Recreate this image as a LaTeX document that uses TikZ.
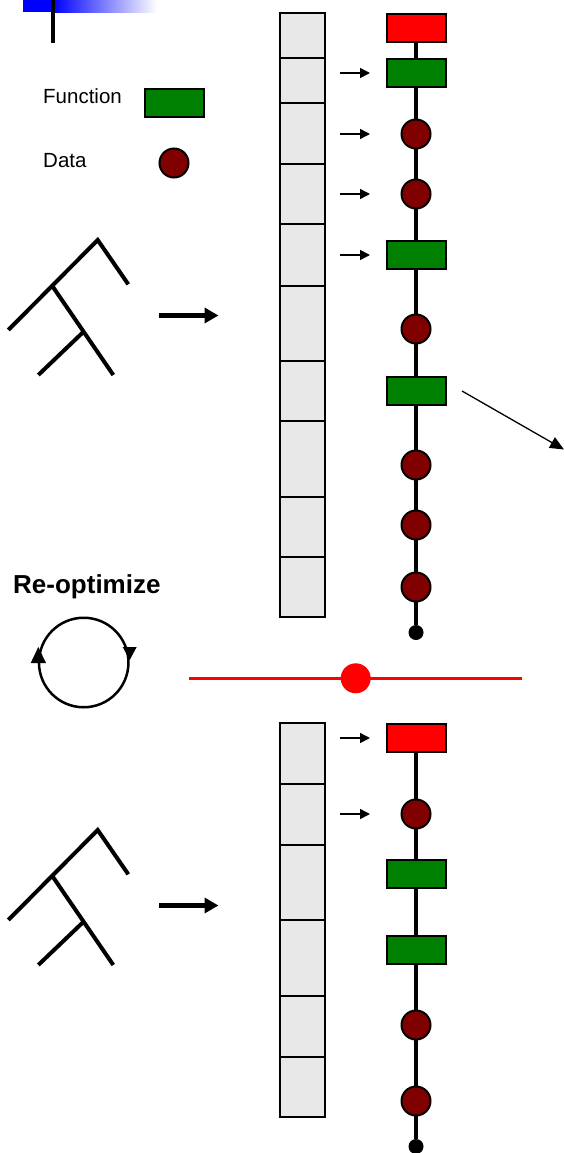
\documentclass[tikz,border=0pt]{standalone}
\usepackage{fontspec}
\setmainfont{Liberation Sans}
\usetikzlibrary{arrows.meta,backgrounds}
\definecolor{funcgreen}{RGB}{0,128,0}
\definecolor{datared}{RGB}{128,0,0}
\definecolor{cellgray}{RGB}{232,232,232}

\begin{document}
\begin{tikzpicture}[x=1pt,y=-1pt,
  funcbox/.style={rectangle,draw=black,line width=2pt,fill=funcgreen,
    minimum width=59pt,minimum height=28pt,inner sep=0pt},
  startbox/.style={funcbox,fill=red},
  datadot/.style={circle,draw=black,line width=2pt,fill=datared,
    minimum size=29pt,inner sep=0pt},
  enddot/.style={circle,fill=black,minimum size=15pt,inner sep=0pt},
  chainline/.style={line width=4pt},
  cellbox/.style={draw=black,line width=2pt,fill=cellgray},
  tinyarrow/.style={line width=1.5pt,-{Triangle[length=10pt,width=10pt]}},
  longarrow/.style={line width=1.3pt,-{Triangle[length=14pt,width=12pt]}},
  thickarrow/.style={line width=5pt,-{Triangle[length=14pt,width=15pt]}},
  treeline/.style={line width=4pt},
  legendtext/.style={inner sep=0pt,anchor=base west,
    font=\fontsize{20.5}{24}\selectfont}
]
\useasboundingbox (0,0) rectangle (564,1153);

% title bar ornament
\fill[blue] (22.7,0) rectangle (53,12.3);
\shade[left color=blue,right color=white] (53,0) rectangle (157,12.3);
\draw[line width=4pt] (52.7,0) -- (52.7,43);

% legend
\node[legendtext] (fnlabel) at (43,104) {Function};
\node[funcbox] (fnkey) at (174,103.5) {};
\node[legendtext] (dtlabel) at (43,167) {Data};
\node[datadot] (dtkey) at (174,163) {};

% syntax trees with arrows into the stacks
\foreach \dy in {0,590} {
  \begin{scope}[shift={(0,\dy)}]
    \draw[treeline] (8.3,330) -- (97.7,240) -- (128.3,284.3);
    \draw[treeline] (52.3,286) -- (113.3,375);
    \draw[treeline] (83.6,331.7) -- (38.3,375);
    \coordinate (ta\dy) at (159,315.5);
    \coordinate (tb\dy) at (218.5,315.5);
    \draw[thickarrow] (ta\dy) -- (tb\dy);
  \end{scope}
}

% upper stack
\foreach \a/\b in {13/58,58/103,103/164,164/224,224/286,286/361,361/421,421/497,497/557,557/617}
  \draw[cellbox] (280,\a) rectangle (325,\b);

% lower stack
\foreach \a/\b in {723/784,784/845,845/920,920/996,996/1057,1057/1117}
  \draw[cellbox] (280,\a) rectangle (325,\b);

% upper chain
\node[startbox] (r1) at (416,28) {};
\node[funcbox] (g1) at (416,73) {};
\node[datadot] (d1) at (416,134) {};
\node[datadot] (d2) at (416,194) {};
\node[funcbox] (g2) at (416,255) {};
\node[datadot] (d3) at (416,329) {};
\node[funcbox] (g3) at (416,391) {};
\node[datadot] (d4) at (416,465) {};
\node[datadot] (d5) at (416,525) {};
\node[datadot] (d6) at (416,587) {};
\node[enddot] (e1) at (416,632.5) {};

% lower chain
\node[startbox] (r2) at (416,738) {};
\node[datadot] (d7) at (416,814) {};
\node[funcbox] (g4) at (416,874) {};
\node[funcbox] (g5) at (416,950) {};
\node[datadot] (d8) at (416,1025) {};
\node[datadot] (d9) at (416,1101) {};
\node[enddot] (e2) at (416,1146.5) {};

\begin{scope}[on background layer]
  \draw[chainline] (r1) -- (e1);
  \draw[chainline] (r2) -- (e2);
\end{scope}

% pointers from stack slots
\foreach \n/\y in {p1/73,p2/134,p3/194,p4/255,p5/738,p6/814} {
  \coordinate (\n s) at (340,\y);
  \coordinate (\n e) at (370,\y);
  \draw[tinyarrow] (\n s) -- (\n e);
}

% arrow leaving the chain
\coordinate (outs) at (462,391);
\coordinate (oute) at (564,449.5);
\draw[longarrow] (outs) -- (oute);

% re-optimize loop
\node[anchor=base west,inner sep=0pt,font=\bfseries\fontsize{26}{30}\selectfont]
  (reopt) at (13,593.3) {Re-optimize};
\node[circle,draw=black,line width=2.5pt,minimum size=89.5pt,inner sep=0pt]
  (loop) at (83.7,662.5) {};
\fill (38.3,647) -- (46,663) -- (30.7,663) -- cycle;
\fill (129.7,660) -- (122.7,647) -- (136.7,647) -- cycle;

% separator
\coordinate (sepL) at (189,678.3);
\coordinate (sepR) at (522,678.3);
\draw[red,line width=3pt] (sepL) -- (sepR);
\node[circle,fill=red,minimum size=30pt,inner sep=0pt] (sepdot) at (355.7,678.3) {};

\end{tikzpicture}
\end{document}
